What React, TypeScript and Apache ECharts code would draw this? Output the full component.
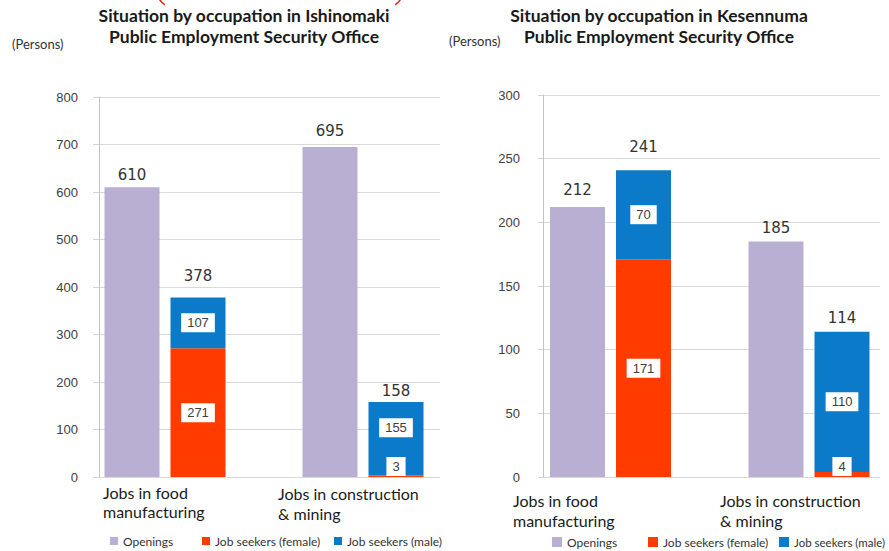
import React, { useEffect, useRef } from 'react';
import * as echarts from 'echarts';

const categories = ['Jobs in food\nmanufacturing', 'Jobs in construction\n& mining'];
const seriesNames = ['Openings', 'Job seekers (female)', 'Job seekers (male)'];

const ishinomakiOpenings = [610, 695];
const ishinomakiFemale = [271, 3];
const ishinomakiMale = [107, 155];

const kesennumaOpenings = [212, 185];
const kesennumaFemale = [171, 4];
const kesennumaMale = [70, 110];

const ishinomakiAxis = { min: 0, max: 800, interval: 100 };
const kesennumaAxis = { min: 0, max: 300, interval: 50 };

const titleTexts = [
  'Situation by occupation in Ishinomaki\nPublic Employment Security Office',
  'Situation by occupation in Kesennuma\nPublic Employment Security Office',
];
const unitText = '(Persons)';

const COLORS = ['#B9AFD3', '#FF3B00', '#0B7BC9'];
const NUM_FONT = 'Liberation Sans, Arial, sans-serif';
const VAL_FONT = 'DejaVu Sans, Liberation Sans, sans-serif';
const TXT_FONT = 'Lato, Carlito, sans-serif';

type Box = { left: number; top: number; width: number; height: number };
type Panel = {
  openings: number[];
  female: number[];
  male: number[];
  axis: { min: number; max: number; interval: number };
  axisGrid: Box;
  barGrid: Box;
  tickLen: number;
  labelMargin: number;
  openDist: number[];
  totalDist: number[];
  maleOffset: number[][];
};

// bar grids use boundaryGap:false, so grid left/right edges are the two category centres
const panels: Panel[] = [
  {
    openings: ishinomakiOpenings,
    female: ishinomakiFemale,
    male: ishinomakiMale,
    axis: ishinomakiAxis,
    axisGrid: { left: 99, top: 97, width: 341, height: 380 },
    barGrid: { left: 165, top: 97, width: 198, height: 380 },
    tickLen: 6,
    labelMargin: 21,
    openDist: [5, 8],
    totalDist: [14, 3],
    maleOffset: [[0, 0], [0, -11]],
  },
  {
    openings: kesennumaOpenings,
    female: kesennumaFemale,
    male: kesennumaMale,
    axis: kesennumaAxis,
    axisGrid: { left: 543, top: 95, width: 337, height: 382 },
    barGrid: { left: 610.5, top: 95, width: 198.5, height: 382 },
    tickLen: 5,
    labelMargin: 23,
    openDist: [10, 6],
    totalDist: [16, 6],
    maleOffset: [[0, 0], [0, 0]],
  },
];

const boxLabel = {
  show: true,
  position: 'inside',
  backgroundColor: '#ffffff',
  padding: [3, 6],
  color: '#404040',
  fontSize: 13,
  fontFamily: NUM_FONT,
};

const topLabel = {
  show: true,
  position: 'top',
  color: '#333333',
  fontSize: 15,
  fontFamily: VAL_FONT,
};

function buildOption() {
  const grid: any[] = [];
  const xAxis: any[] = [];
  const yAxis: any[] = [];
  const series: any[] = [];

  panels.forEach((p, k) => {
    const ag = 2 * k;
    const bg = 2 * k + 1;
    grid.push({ ...p.axisGrid, containLabel: false });
    grid.push({ ...p.barGrid, containLabel: false });

    xAxis.push({ type: 'category', gridIndex: ag, data: categories, show: false });
    xAxis.push({
      type: 'category',
      gridIndex: bg,
      data: categories,
      boundaryGap: false,
      show: false,
    });

    yAxis.push({
      type: 'value',
      gridIndex: ag,
      min: p.axis.min,
      max: p.axis.max,
      interval: p.axis.interval,
      axisLine: { show: true, lineStyle: { color: '#C4C4C4', width: 1 } },
      axisTick: { show: true, length: p.tickLen, lineStyle: { color: '#D4D4D4' } },
      splitLine: { show: true, lineStyle: { color: '#D9D9D9', width: 1 } },
      axisLabel: { color: '#404040', fontSize: 13, fontFamily: NUM_FONT, margin: p.labelMargin },
    });
    yAxis.push({
      type: 'value',
      gridIndex: bg,
      min: p.axis.min,
      max: p.axis.max,
      show: false,
      splitLine: { show: false },
    });

    const common = {
      type: 'bar',
      xAxisIndex: bg,
      yAxisIndex: bg,
      barWidth: 55,
      barGap: '20%',
      stackStrategy: 'all',
    };

    series.push({
      ...common,
      name: seriesNames[0],
      stack: 'open' + k,
      itemStyle: { color: COLORS[0] },
      label: topLabel,
      data: p.openings.map((v, i) => ({ value: v, label: { distance: p.openDist[i] } })),
    });
    series.push({
      ...common,
      name: seriesNames[1],
      stack: 'seek' + k,
      itemStyle: { color: COLORS[1] },
      label: boxLabel,
      data: p.female.map((v) => {
        const small = v / (p.axis.max - p.axis.min) < 0.05;
        return small
          ? { value: v, label: { position: 'insideBottom', distance: 1 } }
          : { value: v };
      }),
    });
    series.push({
      ...common,
      name: seriesNames[2],
      stack: 'seek' + k,
      itemStyle: { color: COLORS[2] },
      label: boxLabel,
      data: p.male.map((v, i) => ({ value: v, label: { offset: p.maleOffset[i] } })),
    });
    const totals = p.female.map((v, i) => v + p.male[i]);
    series.push({
      ...common,
      name: 'Total',
      stack: 'seek' + k,
      itemStyle: { color: 'rgba(0,0,0,0)' },
      label: {
        ...topLabel,
        formatter: (params: any) => String(totals[params.dataIndex]),
      },
      data: totals.map((_, i) => ({ value: 0, label: { distance: p.totalDist[i] } })),
    });
  });

  const legendPos = [
    { left: 110, top: 535, w: 8, fs: 12 },
    { left: 202, top: 535, w: 8, fs: 12 },
    { left: 334, top: 535, w: 8, fs: 12 },
    { left: 552, top: 536, w: 10, fs: 12 },
    { left: 648, top: 536, w: 10, fs: 12 },
    { left: 779, top: 536, w: 10, fs: 11.5 },
  ];
  const legend = legendPos.map((lp, i) => ({
    data: [seriesNames[i % 3]],
    left: lp.left,
    top: lp.top,
    padding: 0,
    itemWidth: lp.w,
    itemHeight: lp.w,
    itemGap: 0,
    icon: 'rect',
    selectedMode: false,
    textStyle: { color: '#333333', fontSize: lp.fs, fontFamily: TXT_FONT },
  }));

  const title = [
    { left: 244, top: 5 },
    { left: 659, top: 5 },
  ].map((t, i) => ({
    text: titleTexts[i],
    left: t.left,
    top: t.top,
    textAlign: 'center',
    padding: 0,
    textStyle: {
      fontFamily: TXT_FONT,
      fontWeight: 'bold',
      fontSize: 17.5,
      lineHeight: 21,
      color: '#1a1a1a',
    },
  }));

  const catPos = [
    { x: 103, y: 482.5, lh: 19 },
    { x: 278, y: 483, lh: 20 },
    { x: 513, y: 490, lh: 20 },
    { x: 720, y: 490, lh: 20 },
  ];
  const graphic: any[] = catPos.map((c, i) => ({
    type: 'text',
    x: c.x,
    y: c.y,
    silent: true,
    style: {
      text: categories[i % 2],
      fontFamily: TXT_FONT,
      fontSize: 16,
      lineHeight: c.lh,
      fill: '#1a1a1a',
      align: 'left',
      verticalAlign: 'top',
    },
  }));
  [
    { x: 12, y: 44 },
    { x: 449, y: 41 },
  ].forEach((u) =>
    graphic.push({
      type: 'text',
      x: u.x,
      y: u.y,
      silent: true,
      style: {
        text: unitText,
        fontFamily: TXT_FONT,
        fontSize: 13,
        fill: '#333333',
        align: 'left',
        verticalAlign: 'middle',
      },
    })
  );
  graphic.push({
    type: 'arc',
    silent: true,
    shape: { cx: 175, cy: -10, r: 18, startAngle: Math.PI * 0.69, endAngle: Math.PI },
    style: { stroke: '#E0241B', lineWidth: 1.5, fill: 'none' },
  });
  graphic.push({
    type: 'arc',
    silent: true,
    shape: { cx: 385, cy: -10, r: 18, startAngle: 0, endAngle: Math.PI * 0.31 },
    style: { stroke: '#E0241B', lineWidth: 1.5, fill: 'none' },
  });

  return {
    animation: false,
    backgroundColor: '#ffffff',
    title,
    legend,
    grid,
    xAxis,
    yAxis,
    series,
    graphic,
  };
}

export default function App() {
  const ref = useRef<HTMLDivElement>(null);
  useEffect(() => {
    if (!ref.current) return;
    const chart = echarts.init(ref.current, undefined, { renderer: 'svg' });
    chart.setOption(buildOption() as any);
    return () => chart.dispose();
  }, []);
  return (
    <div
      ref={ref}
      style={{ position: 'absolute', left: 0, top: 0, width: 889, height: 551 }}
    />
  );
}
